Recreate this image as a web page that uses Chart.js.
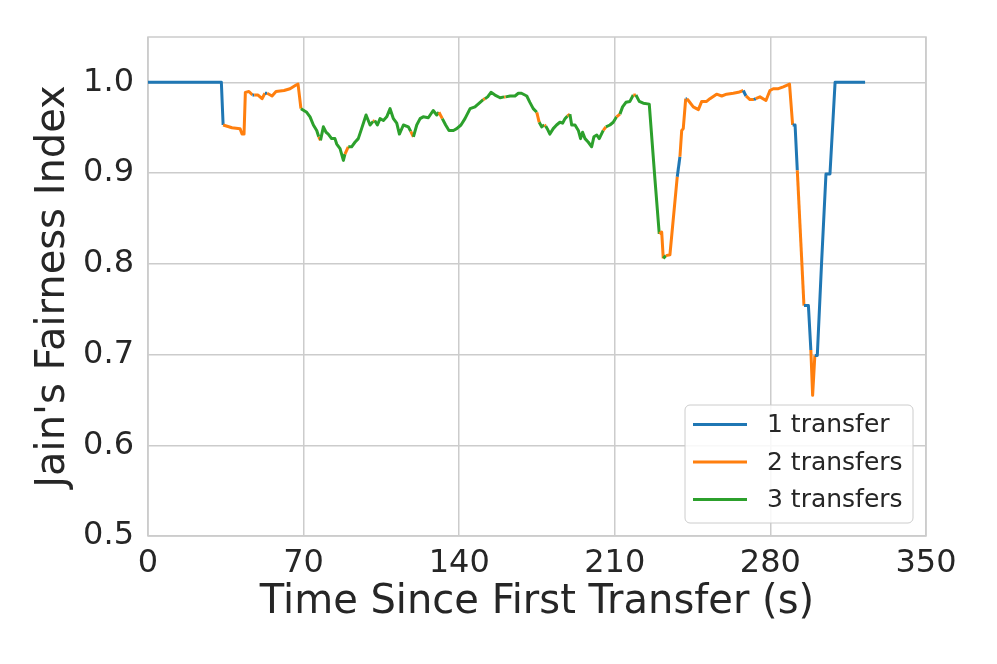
<!DOCTYPE html>
<html>
<head>
<meta charset="utf-8">
<script src="https://cdn.jsdelivr.net/npm/chart.js@4"></script>
<style>
  html, body { margin: 0; padding: 0; background: #ffffff; }
  #wrap { width: 997px; height: 664px; position: relative; }
</style>
</head>
<body>
<div id="wrap"><canvas id="jfi_graph"></canvas></div>
<script>
// time (s) since first transfer
const times = [
  0, 33, 33.8, 37.8, 41.4, 42.3, 43.2, 43.8, 45.4, 47.0, 47.8, 49.5, 51.3, 52.6, 53.6,
  55.8, 57.6, 61.2, 63.9, 66.6, 67.5, 68.8, 71.4, 72.9, 74.4, 75.9, 76.8, 77.6, 78.9,
  80.1, 81.1, 82.6, 84.1, 84.9, 86.4, 87.9, 88.6, 90.1, 91.6, 93.1, 94.6, 96.1, 98.1,
  99.9, 101.3, 102.0, 103.2, 104.4, 105.9, 107.4, 108.9, 110.4, 111.9, 113.1, 114.9,
  117.1, 118.2, 119.4, 120.9, 122.4, 123.8, 126.1, 128.3, 129.9, 130.9, 132.4, 133.9,
  135.4, 137.4, 138.9, 140.8, 142.6, 144.9, 147.1, 149.4, 150.8, 151.6, 152.8, 154.3,
  156.1, 158.4, 160.2, 160.9, 162.9, 165.1, 166.6, 168.0, 170.4, 171.8, 173.3, 174.9,
  176.0, 177.1, 178.3, 178.9, 179.6, 180.8, 182.3, 183.8, 185.3, 186.5, 187.6, 188.7,
  189.8, 190.6, 192.1, 193.6, 194.6, 195.5, 196.6, 198.1, 199.6, 200.6, 201.9, 203.0,
  204.8, 206.0, 207.8, 209.3, 210.8, 212.3, 213.5, 215.0, 216.8, 218.3, 219.5, 221.0,
  222.8, 225.5, 228.1, 230.0, 231.1, 231.8, 233.0, 234.8, 238.1, 239.3, 240.1, 240.8,
  241.9, 242.4, 243.1, 245.3, 247.6, 249.1, 251.3, 252.8, 255.8, 258.1, 260.3, 263.3,
  265.6, 267.8, 269.0, 270.8, 272.6, 273.4, 275.3, 278.0, 279.8, 281.3, 283.6, 285.8,
  288.6, 290.0, 291.1, 292.1, 295.1, 297.1, 298.2, 299.0, 300.0, 301.1, 303.0, 305.0,
  306.8, 309.1, 322.6
];

// Jain's fairness index at each time
const fairness = [
  1.0, 1.0, 0.953, 0.950, 0.949, 0.943, 0.943, 0.989, 0.990, 0.986, 0.986, 0.986, 0.982, 0.988, 0.988,
  0.985, 0.990, 0.991, 0.993, 0.997, 0.998, 0.971, 0.967, 0.962, 0.953, 0.947, 0.940, 0.936, 0.951,
  0.945, 0.943, 0.938, 0.938, 0.932, 0.927, 0.914, 0.921, 0.929, 0.929, 0.934, 0.938, 0.949, 0.964,
  0.953, 0.957, 0.958, 0.953, 0.960, 0.958, 0.962, 0.971, 0.960, 0.955, 0.943, 0.953,
  0.951, 0.946, 0.940, 0.953, 0.960, 0.962, 0.961, 0.969, 0.964, 0.967, 0.960, 0.953,
  0.947, 0.947, 0.949, 0.953, 0.960, 0.971, 0.973, 0.978, 0.981, 0.982, 0.984, 0.989,
  0.986, 0.983, 0.984, 0.984, 0.985, 0.985, 0.988, 0.988, 0.985, 0.978, 0.971, 0.967,
  0.956, 0.951, 0.953, 0.952, 0.949, 0.943, 0.949, 0.953, 0.956, 0.955, 0.960, 0.963,
  0.965, 0.953, 0.953, 0.947, 0.938, 0.945, 0.938, 0.934, 0.929, 0.940, 0.942, 0.938,
  0.947, 0.951, 0.953, 0.956, 0.962, 0.965, 0.973, 0.978, 0.979, 0.986, 0.986, 0.979,
  0.977, 0.976, 0.892, 0.833, 0.835, 0.806, 0.809, 0.810, 0.896, 0.918, 0.947, 0.949,
  0.982, 0.982, 0.980, 0.973, 0.970, 0.979, 0.979, 0.982, 0.987, 0.985, 0.987, 0.988,
  0.989, 0.991, 0.985, 0.981, 0.981, 0.982, 0.984, 0.980, 0.991, 0.993, 0.993, 0.995,
  0.998, 0.953, 0.953, 0.903, 0.754, 0.754, 0.705, 0.655, 0.699, 0.699, 0.800, 0.899,
  0.899, 1.0, 1.0
];

// number of concurrent transfers from each point to the next
const transfers = [
  1, 1, 2, 2, 2, 2, 2, 2, 2, 1, 2, 2, 2, 1, 2,
  2, 2, 2, 2, 2, 2, 3, 3, 3, 3, 3, 2, 3, 3,
  3, 3, 3, 3, 3, 3, 3, 2, 3, 3, 3, 3, 3, 3,
  3, 2, 3, 3, 3, 3, 3, 3, 3, 3, 3, 3,
  3, 2, 3, 3, 3, 3, 3, 3, 3, 2, 3, 3,
  3, 3, 3, 3, 3, 3, 3, 3, 2, 3, 3, 3,
  3, 3, 2, 3, 3, 3, 3, 3, 3, 3, 3, 2,
  3, 3, 2, 3, 3, 3, 3, 3, 3, 3, 3, 2,
  3, 3, 3, 3, 3, 3, 3, 3, 3, 3, 3, 3,
  2, 3, 3, 3, 2, 3, 3, 3, 3, 2, 3, 3,
  3, 3, 3, 2, 2, 3, 2, 2, 1, 2, 2, 2,
  1, 2, 2, 2, 2, 2, 2, 2, 2, 2, 2, 2,
  2, 1, 2, 2, 1, 2, 2, 2, 2, 2, 2, 2,
  2, 1, 1, 2, 1, 1, 2, 2, 1, 1, 1, 1,
  1, 1, 1
];

const legendLabels = ["1 transfer", "2 transfers", "3 transfers"];
const colors = ["#1f77b4", "#ff7f0e", "#2ca02c"];
const xTicks = [0, 70, 140, 210, 280, 350];
const yTicks = [0.5, 0.6, 0.7, 0.8, 0.9, 1.0];

const textColor = "#262626";
const gridColor = "#cccccc";
const fontFamily = "'DejaVu Sans', sans-serif";

const points = times.map((t, i) => ({ x: t, y: fairness[i] }));

// frame on all four sides, like the seaborn whitegrid spines
const frame = {
  id: "frame",
  beforeDatasetsDraw(chart) {
    const { ctx, chartArea: a } = chart;
    ctx.save();
    ctx.strokeStyle = gridColor;
    ctx.lineWidth = 1.5;
    ctx.strokeRect(a.left, a.top, a.right - a.left, a.bottom - a.top);
    ctx.restore();
  },
};

// legend box in the lower right corner of the plot
const cornerLegend = {
  id: "cornerLegend",
  afterDraw(chart) {
    const { ctx, chartArea: a } = chart;
    const w = 228, h = 118;
    const x0 = a.right - 13 - w;
    const y0 = a.bottom - 13 - h;
    ctx.save();
    ctx.beginPath();
    ctx.roundRect(x0, y0, w, h, 5);
    ctx.fillStyle = "rgba(255,255,255,0.85)";
    ctx.fill();
    ctx.strokeStyle = gridColor;
    ctx.lineWidth = 1;
    ctx.stroke();
    ctx.font = "25px " + fontFamily;
    ctx.textBaseline = "middle";
    ctx.textAlign = "left";
    legendLabels.forEach((label, i) => {
      const y = y0 + 19.5 + i * 37.5;
      ctx.beginPath();
      ctx.moveTo(x0 + 8, y);
      ctx.lineTo(x0 + 62, y);
      ctx.strokeStyle = colors[i];
      ctx.lineWidth = 3;
      ctx.stroke();
      ctx.fillStyle = textColor;
      ctx.fillText(label, x0 + 82, y + 1);
    });
    ctx.restore();
  },
};

new Chart(document.getElementById("jfi_graph"), {
  type: "line",
  data: {
    datasets: [
      {
        label: "Jain's Fairness Index",
        data: points,
        borderWidth: 3,
        borderColor: colors[0],
        borderJoinStyle: "round",
        pointRadius: 0,
        tension: 0,
        segment: {
          borderColor: (c) => colors[transfers[c.p0DataIndex] - 1],
        },
      },
    ],
  },
  options: {
    responsive: true,
    maintainAspectRatio: false,
    devicePixelRatio: 1,
    animation: false,
    layout: { padding: { top: 37, right: 71, left: 0, bottom: 0 } },
    scales: {
      x: {
        type: "linear",
        min: 0,
        max: 350,
        afterFit: (s) => { s.height = 128; },
        afterBuildTicks: (s) => { s.ticks = xTicks.map((v) => ({ value: v })); },
        grid: { color: gridColor, lineWidth: 1.5, drawTicks: false },
        border: { display: false },
        ticks: {
          color: textColor,
          font: { family: fontFamily, size: 32 },
          padding: 8,
          maxRotation: 0,
        },
        title: {
          display: true,
          text: "Time Since First Transfer (s)",
          color: textColor,
          font: { family: fontFamily, size: 40 },
          padding: { top: 0, bottom: 37 },
        },
      },
      y: {
        min: 0.5,
        max: 1.05,
        afterFit: (s) => { s.width = 148; },
        afterBuildTicks: (s) => { s.ticks = yTicks.map((v) => ({ value: v })); },
        grid: { color: gridColor, lineWidth: 1.5, drawTicks: false },
        border: { display: false },
        ticks: {
          color: textColor,
          font: { family: fontFamily, size: 32 },
          padding: 14,
          callback: (v) => v.toFixed(1),
        },
        title: {
          display: true,
          text: "Jain's Fairness Index",
          color: textColor,
          font: { family: fontFamily, size: 40 },
          padding: { top: 30, bottom: 0 },
        },
      },
    },
    plugins: {
      legend: { display: false },
      tooltip: { enabled: false },
    },
  },
  plugins: [frame, cornerLegend],
});
</script>
</body>
</html>
